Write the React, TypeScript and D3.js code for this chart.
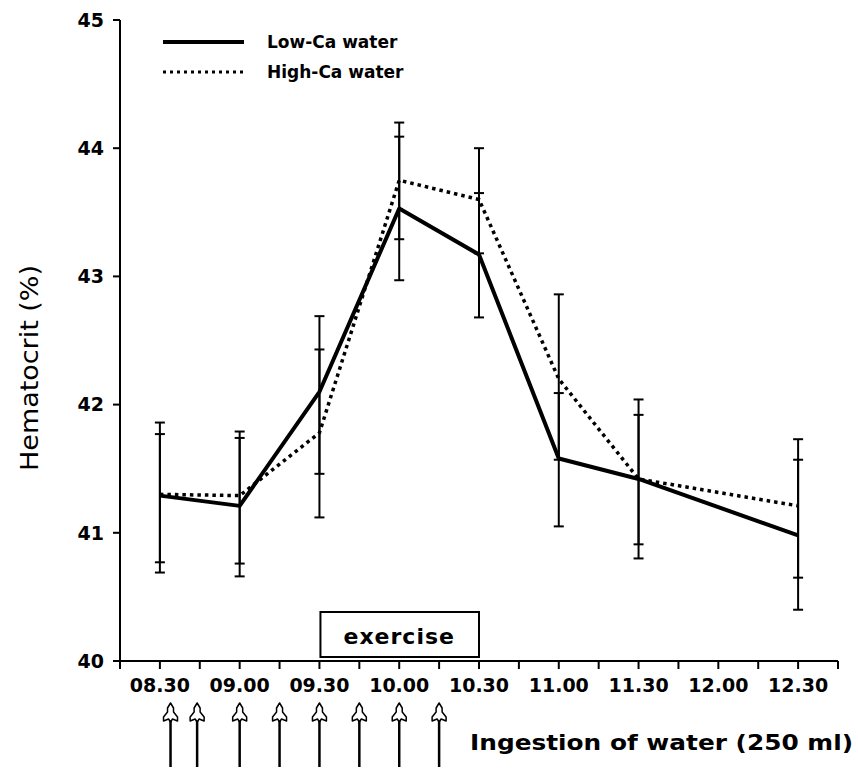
import React from 'react';
import * as d3 from 'd3';

// sampling times in minutes after midnight (no point at 12.00)
const times = [510, 540, 570, 600, 630, 660, 690, 750];
const lowCa = [41.29, 41.21, 42.1, 43.53, 43.17, 41.58, 41.42, 40.98];
const highCa = [41.3, 41.29, 41.78, 43.75, 43.6, 42.2, 41.42, 41.21];
const lowCaLo = [40.69, 40.66, 41.46, 42.97, 42.68, 41.05, 40.91, 40.4];
const lowCaHi = [41.86, 41.79, 42.69, 44.09, 43.65, 42.09, 41.92, 41.57];
const highCaLo = [40.77, 40.76, 41.12, 43.29, 43.18, 41.57, 40.8, 40.65];
const highCaHi = [41.77, 41.74, 42.43, 44.2, 44.0, 42.86, 42.04, 41.73];

const tickLabels = ['08.30', '09.00', '09.30', '10.00', '10.30', '11.00', '11.30', '12.00', '12.30'];
const labelTimes = [510, 540, 570, 600, 630, 660, 690, 720, 750];
const yTicks = [40, 41, 42, 43, 44, 45];
const ingestionTimes = [514, 524, 540, 555, 570, 585, 600, 615];
const exercise = [570, 630];

const W = 858;
const H = 769;

const App = () => {
  const x = d3.scaleLinear().domain([495, 765]).range([120, 838]);
  const y = d3.scaleLinear().domain([40, 45]).range([661, 20]);
  const minorTicks = d3.range(495, 766, 15);

  const line = d3
    .line<number>()
    .x((d, i) => x(times[i]))
    .y(d => y(d));

  const bold = { fontFamily: 'DejaVu Sans', fontWeight: 'bold' as const };

  const errBar = (lo: number[], hi: number[], key: string) =>
    times.map((t, i) => (
      <g key={key + i} stroke="#000" strokeWidth={2}>
        <line x1={x(t)} x2={x(t)} y1={y(lo[i])} y2={y(hi[i])} />
        <line x1={x(t) - 5} x2={x(t) + 5} y1={y(lo[i])} y2={y(lo[i])} />
        <line x1={x(t) - 5} x2={x(t) + 5} y1={y(hi[i])} y2={y(hi[i])} />
      </g>
    ));

  const arrowHead = 'M0,0 L3,5 L3,9 L7,14 L7,18 L2,16 L0,19 L-2,16 L-7,18 L-7,14 L-3,9 L-3,5 Z';

  return (
    <svg width={W} height={H} style={{ position: 'absolute', left: 0, top: 0, background: '#fff' }}>
      {/* axes */}
      <line x1={120} x2={120} y1={y(45)} y2={665} stroke="#000" strokeWidth={2} />
      <line x1={116} x2={x(765)} y1={y(40)} y2={y(40)} stroke="#000" strokeWidth={2} />
      {yTicks.map(v => (
        <g key={'y' + v}>
          <line x1={113} x2={120} y1={y(v)} y2={y(v)} stroke="#000" strokeWidth={2} />
          <text x={104} y={y(v)} dy="0.36em" textAnchor="end" fontSize={19} {...bold}>
            {v}
          </text>
        </g>
      ))}
      {minorTicks.map(t => (
        <line key={'t' + t} x1={x(t)} x2={x(t)} y1={y(40)} y2={y(40) + 8} stroke="#000" strokeWidth={2} />
      ))}
      {labelTimes.map((t, i) => (
        <text key={'l' + t} x={x(t)} y={692} textAnchor="middle" fontSize={19} {...bold}>
          {tickLabels[i]}
        </text>
      ))}

      {/* y title */}
      <text
        transform="translate(38,368) rotate(-90)"
        textAnchor="middle"
        fontFamily="DejaVu Sans"
        fontSize={24}
        textLength={206}
        lengthAdjust="spacingAndGlyphs"
      >
        Hematocrit (%)
      </text>

      {/* exercise box */}
      <rect x={x(exercise[0]) + 1} y={612} width={x(exercise[1]) - x(exercise[0]) - 1} height={45} fill="#fff" stroke="#000" strokeWidth={2} />
      <text x={(x(exercise[0]) + x(exercise[1])) / 2} y={644} textAnchor="middle" fontSize={22} letterSpacing={1} {...bold}>
        exercise
      </text>

      {/* error bars */}
      {errBar(lowCaLo, lowCaHi, 'el')}
      {errBar(highCaLo, highCaHi, 'eh')}

      {/* series */}
      <path d={line(highCa) || ''} fill="none" stroke="#000" strokeWidth={3.5} strokeDasharray="3.5,4" />
      <path d={line(lowCa) || ''} fill="none" stroke="#000" strokeWidth={4} strokeLinejoin="round" />

      {/* legend */}
      <line x1={163} x2={244} y1={42} y2={42} stroke="#000" strokeWidth={4} />
      <text x={267} y={48} fontSize={17} {...bold}>
        Low-Ca water
      </text>
      <line x1={163} x2={244} y1={72} y2={72} stroke="#000" strokeWidth={3} strokeDasharray="3,4" />
      <text x={267} y={78} fontSize={17} {...bold}>
        High-Ca water
      </text>

      {/* ingestion arrows */}
      {ingestionTimes.map(t => (
        <g key={'a' + t} transform={`translate(${x(t)},703)`}>
          <line x1={0} x2={0} y1={16} y2={64} stroke="#000" strokeWidth={2.5} />
          <path d={arrowHead} fill="#fff" stroke="#000" strokeWidth={1.5} strokeLinejoin="round" />
        </g>
      ))}
      <text x={470} y={750} fontSize={22} textLength={383} lengthAdjust="spacingAndGlyphs" {...bold}>
        Ingestion of water (250 ml)
      </text>
    </svg>
  );
};

export default App;
